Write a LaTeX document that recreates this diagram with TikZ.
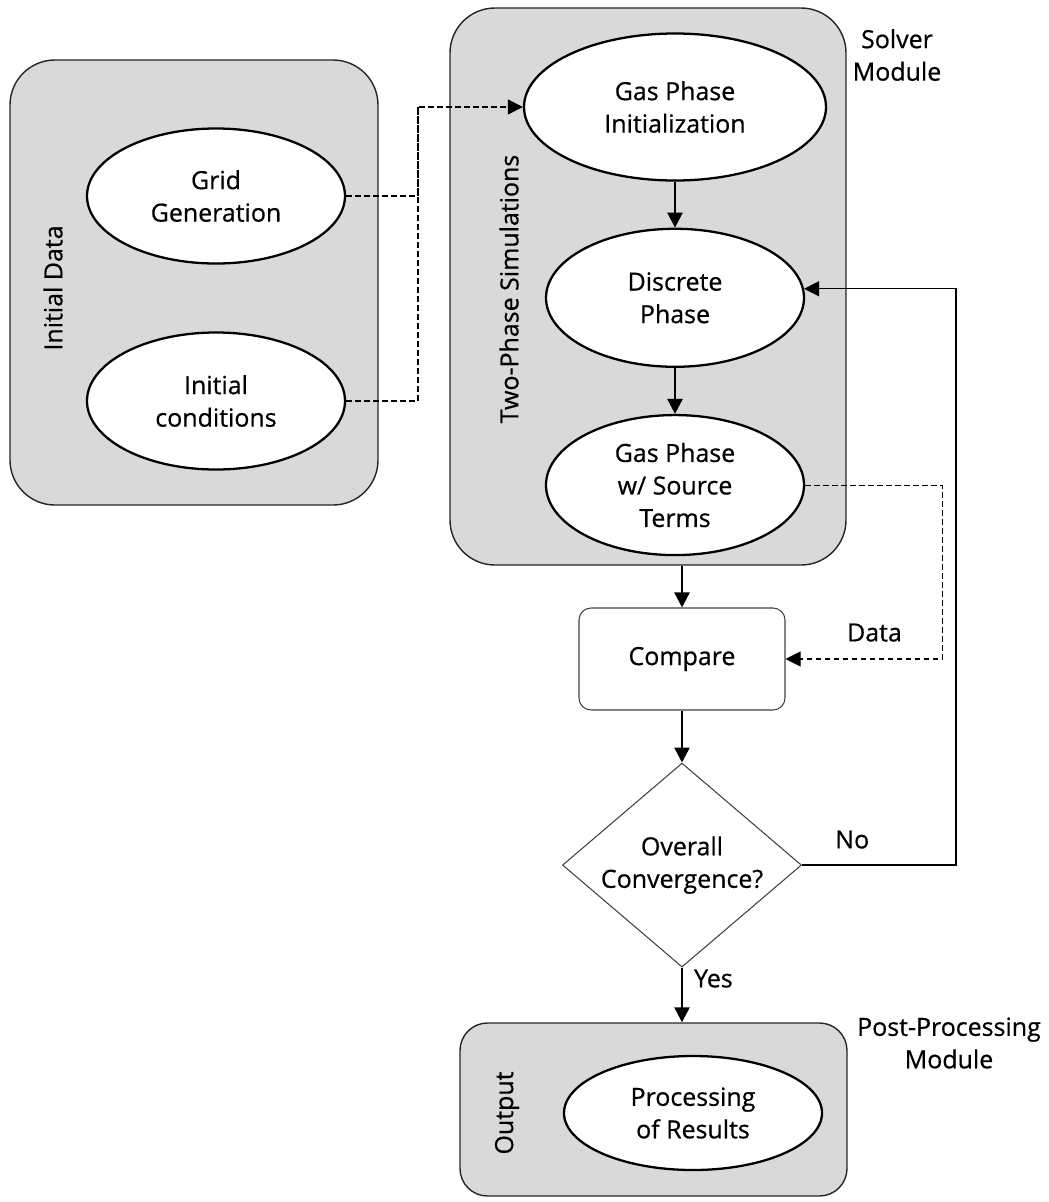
\documentclass[tikz,border=0pt]{standalone}
\usepackage{fontspec}
\setmainfont{Open Sans}[FakeBold=0.6]
\usetikzlibrary{shapes.geometric, arrows.meta, positioning, calc}
\definecolor{panelgray}{RGB}{217,217,217}
\tikzset{
    modulebox/.style={rectangle, rounded corners=9mm, draw=black!85, line width=0.8pt, fill=panelgray, inner sep=0pt},
    stepnode/.style={ellipse, draw=black, line width=1.3pt, fill=white, inner sep=0pt, align=center, minimum width=51.6mm},
    arrow/.style={-{Triangle[length=3mm, width=3mm]}, line width=1.4pt},
    thinarrow/.style={-{Triangle[length=3mm, width=3mm]}, line width=0.7pt},
    dashedarrow/.style={-{Triangle[length=3mm, width=3mm]}, line width=0.6pt, dash pattern=on 1.1mm off 0.7mm},
}

\begin{document}
\begin{tikzpicture}[
    x=0.2mm, y=-0.2mm,
    font=\fontsize{14.2}{18.5}\selectfont,
    node distance=9.2mm,
    lbl/.style={align=center},
    sidelbl/.style={rotate=90},
]
\useasboundingbox (0,0) rectangle (1049,1202);

% Column 1: Initial Data
\node[modulebox, minimum width=73.6mm, minimum height=89mm] (initbox) at (194,282.5) {};
\node[sidelbl] (initlbl) at (53,288) {Initial Data};
\node[stepnode, minimum height=27mm] (grid) at (216,196) {Grid\\Generation};
\node[stepnode, minimum height=27.4mm] (initcond) at (216,401) {Initial\\conditions};

% Column 2: Solver Module
\node[modulebox, minimum width=79.2mm, minimum height=111.4mm] (solver) at (648,286.5) {};
\node[sidelbl] (twophase) at (509,289) {Two-Phase Simulations};
\node[stepnode, minimum width=60.4mm, minimum height=29.4mm] (gasinit) at (675,107) {Gas Phase\\Initialization};
\node[stepnode, minimum height=27.6mm, below=of gasinit] (discrete) {Discrete\\Phase};
\node[stepnode, minimum height=28mm, below=of discrete] (gassrc) {Gas Phase\\w/ Source\\Terms};
\node[lbl] (solverlbl) at (897,55) {Solver\\Module};

% Compare and convergence check
\node[draw=black!75, line width=0.6pt, rounded corners=2.4mm, minimum width=41.2mm, minimum height=20.4mm] (compare) at (682,659) {Compare};
\node[diamond, draw=black!75, line width=0.6pt, aspect=1.17, inner sep=0pt, minimum width=47.8mm, minimum height=40.8mm, align=center, below=10.4mm of compare] (conv) {Overall\\Convergence?};

% Post-Processing Module
\node[modulebox, rounded corners=5.5mm, minimum width=77.4mm, minimum height=34.6mm] (outbox) at (653.5,1109.5) {};
\node[sidelbl] (outlbl) at (507,1113) {Output};
\node[stepnode, minimum height=22.8mm] (proc) at (693,1113) {Processing\\of Results};
\node[lbl] (postlbl) at (949,1043) {Post-Processing\\Module};

% Arrows
\coordinate (join) at (418,107);
\draw[line width=0.6pt, dash pattern=on 1.1mm off 0.7mm] (initcond.east) -| (join);
\draw[dashedarrow] (grid.east) -| (join) -- (gasinit.west);
\draw[arrow] (gasinit) -- (discrete);
\draw[arrow] (discrete) -- (gassrc);
\draw[arrow] (compare.north |- solver.south) -- (compare.north);
\draw[dashedarrow] (gassrc.east) -- ++(137,0) |- (compare.east) node[pos=0.716, above=2.2mm] {Data};
\draw[arrow] (compare) -- (conv);
\draw[thinarrow] (conv.east) -| ($(discrete.4)+(152,0)$) node[pos=0.163, above=2mm] {No} -- (discrete.4);
\draw[arrow] (conv.south) -- (conv.south |- outbox.north) node[pos=0.2, right=1mm] {Yes};

\end{tikzpicture}
\end{document}
